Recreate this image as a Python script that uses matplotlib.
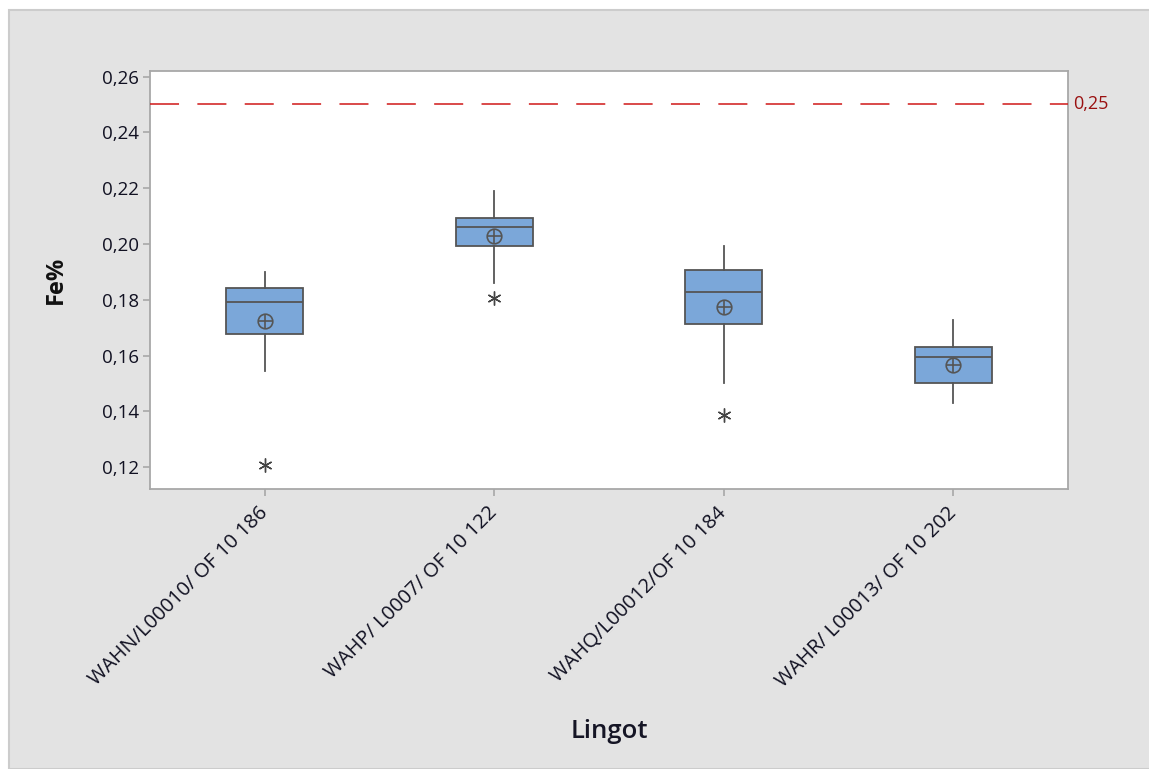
import matplotlib
matplotlib.use("Agg")
import matplotlib.pyplot as plt
from matplotlib.patches import Rectangle
from matplotlib.ticker import FuncFormatter

# Fe% summary per ingot
lingots = ["WAHN/L00010/ OF 10 186", "WAHP/ L0007/ OF 10 122",
           "WAHQ/L00012/OF 10 184", "WAHR/ L00013/ OF 10 202"]
whisker_low = [0.1545, 0.1860, 0.1501, 0.1429]
q1 = [0.1677, 0.1993, 0.1713, 0.1501]
median = [0.1791, 0.2062, 0.1827, 0.1596]
q3 = [0.1842, 0.2092, 0.1906, 0.1632]
whisker_high = [0.1901, 0.2190, 0.1994, 0.1728]
mean = [0.1725, 0.2027, 0.1776, 0.1567]
outliers = [[0.1208], [0.1808], [0.1387], []]
limit = 0.25
y_ticks = [0.12, 0.14, 0.16, 0.18, 0.20, 0.22, 0.24, 0.26]

plt.rcParams['font.family'] = ['Open Sans', 'DejaVu Sans']

fig = plt.figure(figsize=(11.49, 7.69), dpi=100, facecolor='white')
fig.patches.append(Rectangle((9 / 1149, 0), 1, (769 - 10) / 769,
                             transform=fig.transFigure, facecolor='#e3e3e3',
                             edgecolor='#cccccc', linewidth=1.5, zorder=-10))

ax = fig.add_axes([150 / 1149, (769 - 489) / 769, (1068 - 150) / 1149, (489 - 71) / 769])
ax.set_facecolor('white')

positions = list(range(1, len(lingots) + 1))
stats = []
for i, name in enumerate(lingots):
    stats.append(dict(label=name, med=median[i], q1=q1[i], q3=q3[i],
                      whislo=whisker_low[i], whishi=whisker_high[i],
                      mean=mean[i], fliers=outliers[i]))

edge = '#555555'
ax.bxp(stats, positions=positions, widths=0.335, patch_artist=True,
       showmeans=False, showcaps=False, showfliers=False,
       boxprops=dict(facecolor='#7ba7d9', edgecolor=edge, linewidth=1.3),
       medianprops=dict(color=edge, linewidth=1.3),
       whiskerprops=dict(color=edge, linewidth=1.3))

# mean symbol: circle with a cross
ax.plot(positions, mean, linestyle='none', marker='o', markersize=10.5,
        markerfacecolor='none', markeredgecolor=edge, markeredgewidth=1.2, zorder=5)
ax.plot(positions, mean, linestyle='none', marker='+', markersize=10.5,
        markeredgecolor=edge, markeredgewidth=1.2, zorder=5)

# outliers as asterisks
for p, vals in zip(positions, outliers):
    if vals:
        ax.plot([p] * len(vals), vals, linestyle='none', marker=(6, 2, 0),
                markersize=10, markeredgecolor='#444444', markeredgewidth=1.0, zorder=5)

# specification limit
ax.axhline(limit, color='#d01818', linewidth=1.1, dashes=(19, 12), zorder=4)
ax.text(1.006, limit, f"{limit:.2f}".replace('.', ','), transform=ax.get_yaxis_transform(),
        color='#9a1010', fontsize=13, va='center', ha='left')

ax.set_xlim(0.5, 4.5)
ax.set_ylim(0.1122, 0.262)
ax.set_yticks(y_ticks)
ax.yaxis.set_major_formatter(FuncFormatter(lambda v, _: f"{v:.2f}".replace('.', ',')))
ax.set_xticks(positions)
ax.set_xticklabels(lingots, rotation=45, ha='right', va='center',
                   rotation_mode='anchor', fontsize=14.5)

for s in ax.spines.values():
    s.set_color('#a8a8a8')
    s.set_linewidth(1.3)
ax.tick_params(axis='both', colors='#a8a8a8', length=5, width=1.2)
ax.tick_params(axis='y', labelcolor='#111122', labelsize=13.5, pad=3)
ax.tick_params(axis='x', labelcolor='#111122', pad=10)

ax.set_ylabel('Fe%', fontsize=17, fontweight='bold', color='#111111')
ax.yaxis.set_label_coords(-0.09, 0.5)
ax.set_xlabel('Lingot', fontsize=18.5, fontweight='semibold', color='#151525')
ax.xaxis.set_label_coords(0.5, -0.55)

fig.savefig('out.png', dpi=100, facecolor=fig.get_facecolor())
